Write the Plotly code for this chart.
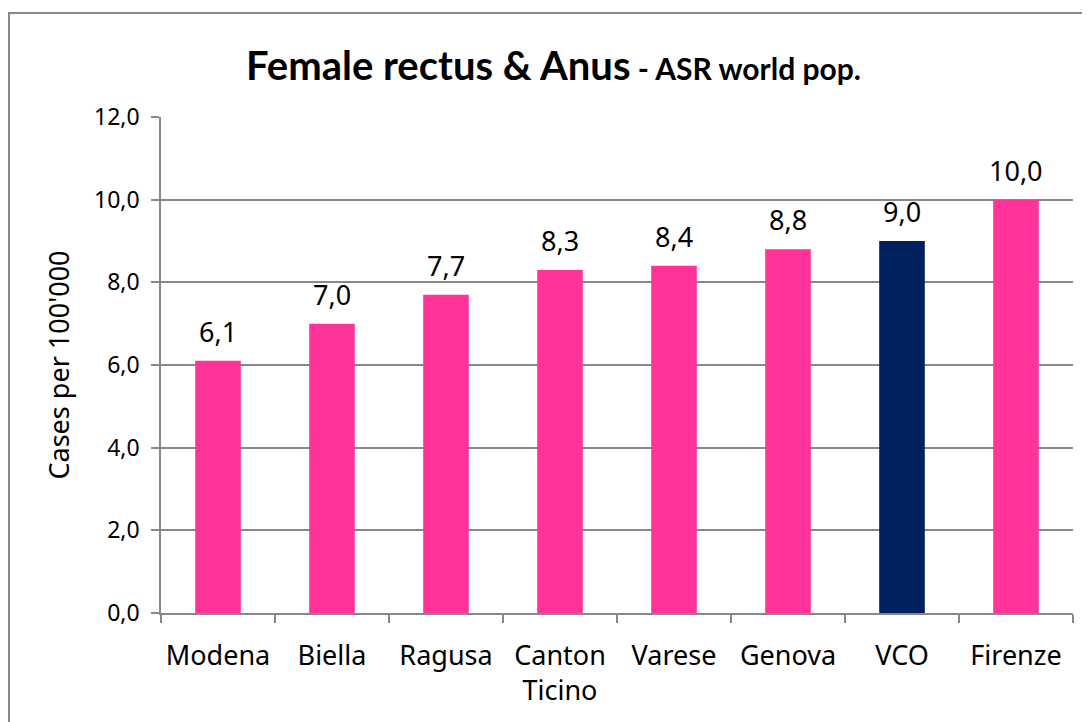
import plotly.graph_objects as go

categories = ["Modena", "Biella", "Ragusa", "Canton<br>Ticino", "Varese", "Genova", "VCO", "Firenze"]
values = [6.1, 7.0, 7.7, 8.3, 8.4, 8.8, 9.0, 10.0]
bar_colors = ["#FF3399"] * 6 + ["#002060"] + ["#FF3399"]
y_ticks = [0, 2, 4, 6, 8, 10, 12]
y_tick_labels = ["0,0", "2,0", "4,0", "6,0", "8,0", "10,0", "12,0"]
value_labels = [f"{v:.1f}".replace(".", ",") for v in values]

FONT = "Noto Sans"
TFONT = "Lato"
W, H = 1082, 714
L, R, T, B = 153, 17, 109, 109

fig = go.Figure()
fig.add_trace(go.Bar(
    x=categories, y=values, marker=dict(color=bar_colors, line=dict(width=0)),
    width=0.4, hoverinfo="skip",
))

for c, v, lab in zip(categories, values, value_labels):
    fig.add_annotation(x=c, y=v, text=lab, showarrow=False, yanchor="bottom",
                       yshift=9, font=dict(family=FONT, size=27, color="black"))

pw = W - L - R
ph = H - T - B
# outer chart border
fig.add_shape(type="rect", xref="paper", yref="paper",
              x0=(1 - L) / pw, x1=(W + 10 - L) / pw,
              y0=-(B + 10) / ph, y1=(H - 5 - B) / ph,
              line=dict(color="#888888", width=2), layer="below")

fig.add_annotation(xref="paper", yref="paper", x=(545 - L) / pw, y=(H - 57 - B) / ph,
                   text="<b>Female rectus &amp; Anus</b><b><span style='font-size:30px'> - ASR world pop.</span></b>",
                   showarrow=False, xanchor="center", yanchor="middle",
                   font=dict(family=TFONT, size=40, color="black"))

fig.update_layout(
    width=W, height=H,
    margin=dict(l=L, r=R, t=T, b=B),
    paper_bgcolor="white", plot_bgcolor="white",
    showlegend=False,
    font=dict(family=FONT, size=22, color="black"),
    bargap=0.6,
)
fig.update_xaxes(
    type="category", tickson="boundaries", ticks="outside", ticklen=8,
    tickcolor="#888888", tickwidth=1.5,
    showline=True, linecolor="#888888", linewidth=1.5,
    tickfont=dict(family=FONT, size=27, color="black"),
    ticklabelstandoff=18,
    showgrid=False,
)
fig.update_yaxes(
    range=[0, 12], tickvals=y_ticks, ticktext=y_tick_labels,
    ticks="outside", ticklen=8, tickcolor="#888888", tickwidth=1.5,
    showline=True, linecolor="#888888", linewidth=1.5,
    showgrid=True, gridcolor="#888888", gridwidth=1.5,
    tickfont=dict(family=FONT, size=23, color="black"),
    ticklabelstandoff=7,
    title=dict(text="Cases per 100'000", font=dict(family=FONT, size=27, color="black"), standoff=17),
    zeroline=False,
)

fig.write_html("out.html")
